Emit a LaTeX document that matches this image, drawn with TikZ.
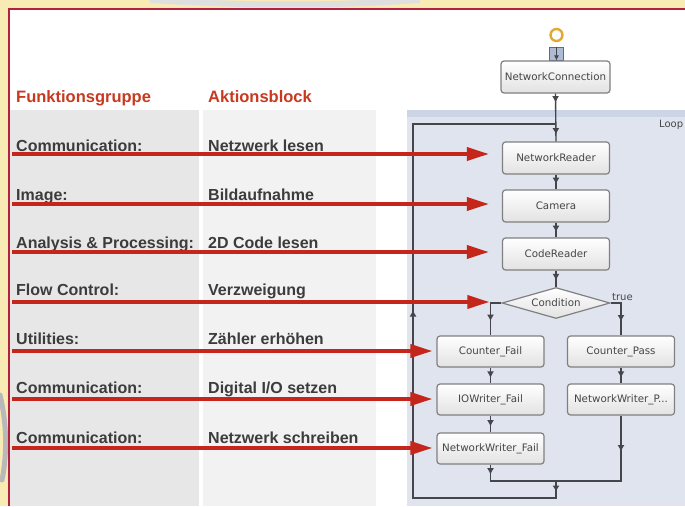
\documentclass[tikz,border=0pt]{standalone}
\usepackage{fontspec}
\setmainfont{Liberation Sans}
\newfontfamily\uifont{DejaVu Sans}
\usetikzlibrary{shapes.geometric,arrows.meta,decorations.markings}
\definecolor{bgyel}{HTML}{F8EBB4}
\definecolor{framered}{HTML}{B5203C}
\definecolor{colone}{HTML}{E7E7E7}
\definecolor{coltwo}{HTML}{F2F2F2}
\definecolor{loopbg}{HTML}{DFE4EF}
\definecolor{loopstrip}{HTML}{CCD5E5}
\definecolor{boxborder}{HTML}{808080}
\definecolor{boxbot}{HTML}{E2E2E2}
\definecolor{boxtext}{HTML}{464646}
\definecolor{connc}{HTML}{45454C}
\definecolor{redarr}{HTML}{C4261C}
\definecolor{headred}{HTML}{C8391F}
\definecolor{txtgray}{HTML}{3C3C3C}
\definecolor{startor}{HTML}{E3A832}
\definecolor{portfill}{HTML}{AEBBD3}
\definecolor{portdraw}{HTML}{5A6A90}
\tikzset{
  flowbox/.style={rectangle, rounded corners=3pt, draw=boxborder, line width=1.2pt,
    top color=white, bottom color=boxbot, minimum width=107pt, minimum height=31pt,
    inner sep=1pt, font=\uifont\fontsize{10.3}{12}\selectfont, text=boxtext},
  conn/.style={draw=connc, line width=1.4pt},
  tickat/.style={postaction={decorate,decoration={markings,
    mark=at position #1 with {\arrow[color=connc]{Latex[length=6.5pt,width=7pt]}}}}},
  redarrow/.style={draw=redarr, line width=3.6pt, -{Triangle[length=22pt,width=13pt]}},
  lefttxt/.style={anchor=base west, inner sep=0, font=\bfseries\fontsize{16}{18}\selectfont, text=txtgray},
  headtxt/.style={anchor=base west, inner sep=0, font=\bfseries\fontsize{16.5}{18}\selectfont, text=headred},
  smalltxt/.style={anchor=base west, inner sep=0, font=\uifont\fontsize{10}{12}\selectfont, text=boxtext}
}
\begin{document}
\begin{tikzpicture}[x=1pt,y=-1pt]
\useasboundingbox (0,0) rectangle (685,506);
% background and frame
\fill[bgyel] (0,0) rectangle (685,506);
\draw[gray!55, line width=5pt, line cap=round] (0,395) .. controls (6,420) and (8,450) .. (2,480);
\draw[gray!25, line width=6pt] (150,0) .. controls (250,6) and (330,6) .. (420,0);
\fill[white] (9,9) rectangle (685,506);
\draw[framered, line width=2pt] (9,506) -- (9,9) -- (685,9);
% table columns
\fill[colone] (10,110) rectangle (199,506);
\fill[coltwo] (203,110) rectangle (376,506);
% loop panel
\fill[loopbg] (407,110) rectangle (685,506);
\fill[loopstrip] (407,110) rectangle (685,117);
\node[smalltxt] (looplbl) at (659,127) {Loop};
% header
\node[headtxt] (h1) at (16,102) {Funktionsgruppe};
\node[headtxt] (h2) at (208,102) {Aktionsblock};
% rows
\node[lefttxt] (g1) at (16,151) {Communication:};
\node[lefttxt] (b1) at (208,151) {Netzwerk lesen};
\node[lefttxt] (g2) at (16,200) {Image:};
\node[lefttxt] (b2) at (208,200) {Bildaufnahme};
\node[lefttxt] (g3) at (16,248) {Analysis \& Processing:};
\node[lefttxt] (b3) at (208,248) {2D Code lesen};
\node[lefttxt] (g4) at (16,295) {Flow Control:};
\node[lefttxt] (b4) at (208,295) {Verzweigung};
\node[lefttxt] (g5) at (16,344) {Utilities:};
\node[lefttxt] (b5) at (208,344) {Zähler erhöhen};
\node[lefttxt] (g6) at (16,393) {Communication:};
\node[lefttxt] (b6) at (208,393) {Digital I/O setzen};
\node[lefttxt] (g7) at (16,443) {Communication:};
\node[lefttxt] (b7) at (208,443) {Netzwerk schreiben};
% flow nodes
\node[circle, draw=startor, line width=2.4pt, minimum size=12pt, inner sep=0] (st) at (556.5,35) {};
\node[rectangle, draw=portdraw, fill=portfill, minimum width=14pt, minimum height=13pt, inner sep=0, line width=0.9pt] (port) at (556.5,53.5) {};
\node[flowbox, minimum width=109pt, minimum height=32pt] (nc) at (555.5,77) {NetworkConnection};
\node[flowbox, minimum height=32pt] (nr) at (556,158) {NetworkReader};
\node[flowbox, minimum height=32pt] (cam) at (556,206) {Camera};
\node[flowbox, minimum height=32pt] (cr) at (556,254) {CodeReader};
\node[diamond, aspect=3.5, minimum width=108pt, minimum height=31pt, inner sep=0,
  draw=boxborder, line width=1.2pt, top color=white, bottom color=boxbot,
  font=\uifont\fontsize{10.3}{12}\selectfont, text=boxtext] (cond) at (556,303) {Condition};
\node[smalltxt] (truelbl) at (612,300) {true};
\node[flowbox] (cf) at (490.5,351.5) {Counter\_Fail};
\node[flowbox] (cp) at (621,351.5) {Counter\_Pass};
\node[flowbox] (iow) at (490.5,399.5) {IOWriter\_Fail};
\node[flowbox] (nwp) at (621,399.5) {NetworkWriter\_P...};
\node[flowbox] (nwf) at (490.5,448.5) {NetworkWriter\_Fail};
\coordinate (mrg) at (556,481);
\coordinate (lpb) at (556,498);
\coordinate (lpl) at (413,498);
\coordinate (lpt) at (413,124);
\coordinate (lpj) at (556,124);
% connectors
\draw[-{Latex[length=5pt,width=5pt]}, line width=1.2pt, connc] (port.north) -- (port.south);
\draw[conn, tickat=9pt, tickat=41pt] (nc.south) -- (nr.north);
\draw[conn, tickat=0.65] (nr.south) -- (cam.north);
\draw[conn, tickat=0.65] (cam.south) -- (cr.north);
\draw[conn, tickat=0.6] (cr.south) -- (cond.north);
\draw[conn, tickat=29pt] (cond.west) -| (cf.north);
\draw[conn, tickat=29pt] (cond.east) -| (cp.north);
\draw[conn, tickat=0.65] (cf.south) -- (iow.north);
\draw[conn, tickat=0.65] (iow.south) -- (nwf.north);
\draw[conn, tickat=0.65] (cp.south) -- (nwp.north);
\draw[conn, tickat=10pt] (nwf.south) |- (mrg);
\draw[conn, tickat=36pt] (nwp.south) |- (mrg);
\draw[conn, tickat=11pt, tickat=348pt] (mrg) -- (lpb) -- (lpl) -- (lpt) -- (lpj);
% red arrows
\coordinate (a1) at (12,154);
\coordinate (a2) at (12,204);
\coordinate (a3) at (12,252);
\coordinate (a4) at (12,302);
\coordinate (a5) at (12,351);
\coordinate (a6) at (12,399);
\coordinate (a7) at (12,448);
\draw[redarrow, shorten >=13pt] (a1) -- (a1 -| nr.west);
\draw[redarrow, shorten >=13pt] (a2) -- (a2 -| cam.west);
\draw[redarrow, shorten >=13pt] (a3) -- (a3 -| cr.west);
\draw[redarrow, shorten >=12pt] (a4) -- (a4 -| cond.west);
\draw[redarrow, shorten >=4pt] (a5) -- (a5 -| cf.west);
\draw[redarrow, shorten >=4pt] (a6) -- (a6 -| iow.west);
\draw[redarrow, shorten >=4pt] (a7) -- (a7 -| nwf.west);
\end{tikzpicture}
\end{document}
